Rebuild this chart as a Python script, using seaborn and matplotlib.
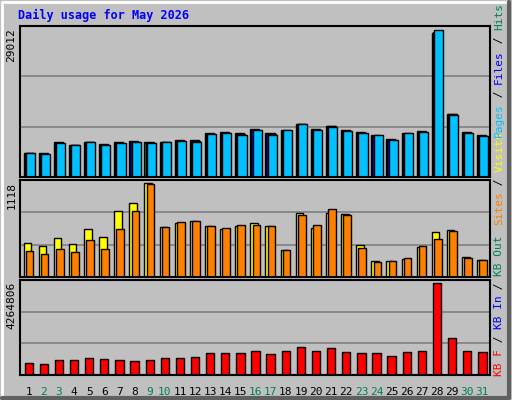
import matplotlib
matplotlib.use("Agg")
import matplotlib.pyplot as plt
import seaborn as sns
import numpy as np

sns.set_style("white")
plt.rcParams["font.family"] = ["DejaVu Sans Mono"]

days = list(range(1, 32))
weekend = [2, 3, 9, 10, 16, 17, 23, 24, 30, 31]

hits = [4800, 4800, 6916, 6340, 6916, 6532, 6916, 7108, 6916, 6916, 7300, 7300, 8645, 8837, 8645,
        9413, 8645, 9221, 10566, 9413, 10182, 9221, 8837, 8261, 7492, 8645, 9029, 28432, 12487, 8837, 8261]
files = [4700, 4650, 6800, 6300, 6900, 6400, 6800, 7000, 6800, 6900, 7200, 7100, 8550, 8750, 8450,
         9300, 8450, 9200, 10500, 9300, 10100, 9100, 8700, 8200, 7400, 8600, 8900, 28700, 12400, 8700, 8150]
pages = [4800, 4610, 6724, 6340, 6916, 6340, 6724, 6916, 6724, 6916, 7108, 6916, 8453, 8645, 8261,
         9221, 8261, 9221, 10566, 9221, 9990, 9029, 8645, 8261, 7300, 8645, 8837, 29012, 12295, 8645, 8069]
visits = [408, 373, 466, 396, 571, 478, 781, 874, 1118, 594, 641, 664, 606, 571, 606,
          641, 606, 315, 757, 583, 757, 746, 384, 186, 186, 210, 361, 536, 559, 233, 198]
sites = [303, 268, 338, 291, 443, 338, 571, 781, 1100, 594, 652, 664, 606, 583, 617,
         617, 606, 315, 734, 617, 804, 734, 350, 175, 186, 221, 373, 454, 548, 221, 198]
kbytes = [556000, 510000, 695000, 695000, 788000, 742000, 695000, 649000, 695000, 788000, 788000,
          834000, 1020000, 1020000, 1020000, 1113000, 973000, 1113000, 1298000, 1113000, 1252000,
          1066000, 1020000, 1020000, 881000, 1066000, 1113000, 4264806, 1715000, 1113000, 1066000]

x = np.array(days)
bg = "#C0C0C0"
fig = plt.figure(figsize=(5.12, 4.0), dpi=100, facecolor=bg)

def panel(rect, ymax, label):
    ax = fig.add_axes(rect, facecolor=bg)
    ax.set_xlim(0.45, 31.5)
    ax.set_ylim(0, ymax * 1.03)
    for g in (ymax * 1.03 / 3, ymax * 2.06 / 3):
        ax.axhline(g, color="#808080", lw=1.2, zorder=0)
    ax.set_xticks([])
    ax.set_yticks([])
    for s in ax.spines.values():
        s.set_color("black")
        s.set_linewidth(1.5)
    fig.text(rect[0] - 0.008, rect[1] + rect[3] - 0.005, label, rotation=90,
             ha="right", va="top", fontsize=8, color="black")
    return ax

ax1 = panel([0.04, 0.5575, 0.917, 0.3775], 29012, "29012")
ax2 = panel([0.04, 0.3075, 0.917, 0.2425], 1118, "1118")
ax3 = panel([0.04, 0.0625, 0.917, 0.2375], 4264806, "4264806")

kw = dict(edgecolor="black", linewidth=1, align="edge")
ax1.bar(x - 0.35, hits, width=0.6, color="#00805C", **kw)
ax1.bar(x - 0.28, files, width=0.6, color="#0000FF", **kw)
ax1.bar(x - 0.2, pages, width=0.6, color="#00C0FF", **kw)
ax2.bar(x - 0.35, visits, width=0.5, color="#FFFF00", **kw)
ax2.bar(x - 0.2, sites, width=0.5, color="#FF8000", **kw)
ax3.bar(x - 0.28, kbytes, width=0.55, color="#FF0000", **kw)

for d in days:
    xf = 0.04 + 0.917 * (d - 0.45) / 31.05
    fig.text(xf, 0.02, str(d), ha="center", va="center", fontsize=8,
             color="#00805C" if d in weekend else "black")

fig.text(0.035, 0.962, "Daily usage for May 2026", color="#0000FF", fontsize=8.5,
         fontweight="bold", va="center")

def side(y0, parts):
    y = y0
    for txt, col in parts:
        fig.text(0.975, y, txt, rotation=90, ha="center", va="bottom", fontsize=8, color=col)
        y += len(txt) * 0.0167
side(0.06, [("KB F", "#FF0000"), (" / ", "black"), ("KB In", "#0000FF"), (" / ", "black"), ("KB Out", "#00805C")])
side(0.4375, [("Sites", "#FF8000"), (" / ", "black"), ("Visits", "#FFFF00")])
side(0.6575, [("Pages", "#00C0FF"), (" / ", "black"), ("Files", "#0000FF"), (" / ", "black"), ("Hits", "#00805C")])

# bevelled outer frame
fig.add_artist(plt.Line2D([0.003, 0.003, 0.995], [0.005, 0.995, 0.995], color="white", lw=2))
fig.add_artist(plt.Line2D([0.003, 0.995, 0.995], [0.005, 0.005, 0.995], color="#606060", lw=3))

fig.savefig("out.png", dpi=100, facecolor=bg)
